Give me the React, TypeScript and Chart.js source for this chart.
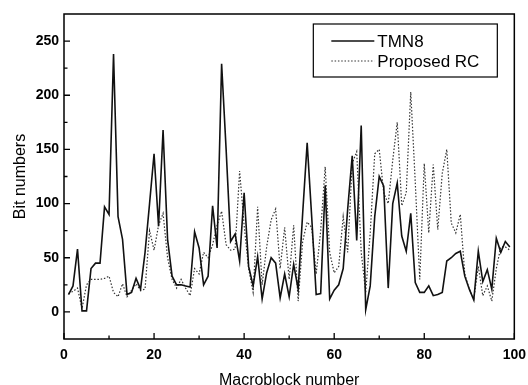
import React, { useEffect, useRef } from "react";
import { Chart, registerables } from "chart.js";

Chart.register(...registerables);

// Macroblock numbers 1..99 (QCIF frame)
const macroblocks: number[] = [
  1, 2, 3, 4, 5, 6, 7, 8, 9, 10, 11, 12, 13, 14, 15, 16, 17, 18, 19, 20,
  21, 22, 23, 24, 25, 26, 27, 28, 29, 30, 31, 32, 33, 34, 35, 36, 37, 38, 39, 40,
  41, 42, 43, 44, 45, 46, 47, 48, 49, 50, 51, 52, 53, 54, 55, 56, 57, 58, 59, 60,
  61, 62, 63, 64, 65, 66, 67, 68, 69, 70, 71, 72, 73, 74, 75, 76, 77, 78, 79, 80,
  81, 82, 83, 84, 85, 86, 87, 88, 89, 90, 91, 92, 93, 94, 95, 96, 97, 98, 99,
];

const tmn8: number[] = [
  16, 24, 58, 1, 1, 40, 45, 45, 97, 90, 238, 88, 67, 16, 18, 31, 21, 55, 100, 146,
  79, 168, 67, 33, 25, 25, 24, 23, 74, 59, 25, 33, 98, 59, 229, 150, 65, 72, 47, 110,
  42, 24, 51, 12, 36, 50, 45, 13, 35, 14, 44, 21, 91, 156, 88, 16, 17, 117, 12, 20,
  25, 40, 95, 144, 66, 172, 2, 24, 88, 125, 116, 22, 100, 119, 70, 56, 91, 27, 18, 18,
  24, 15, 16, 18, 47, 50, 54, 56, 33, 21, 11, 56, 28, 39, 21, 68, 55, 65, 60,
];

const proposedRC: number[] = [
  17, 19, 22, 3, 25, 30, 30, 30, 31, 33, 18, 14, 26, 14, 20, 26, 20, 21, 75, 57,
  80, 91, 50, 30, 22, 30, 22, 15, 40, 35, 55, 50, 62, 80, 93, 62, 57, 58, 130, 80,
  40, 18, 97, 25, 60, 85, 95, 40, 78, 30, 80, 10, 65, 83, 78, 35, 75, 134, 55, 36,
  42, 88, 55, 137, 148, 55, 18, 73, 146, 150, 110, 100, 140, 175, 98, 110, 203, 120, 30, 137,
  73, 136, 76, 128, 150, 82, 73, 90, 35, 21, 12, 42, 15, 24, 10, 40, 60, 60, 57,
];

const seriesLabels = ["TMN8", "Proposed RC"];
const xTicks = [0, 20, 40, 60, 80, 100];
const xMinorTicks = [10, 30, 50, 70, 90];
const yTicks = [0, 50, 100, 150, 200, 250];
const yMinorTicks = [-25, 25, 75, 125, 175, 225];

const FONT = "'Liberation Sans', Arial, Helvetica, sans-serif";

const framePlugin = {
  id: "frameTicksLegend",
  afterDraw(chart: any) {
    const ctx = chart.ctx;
    const { left, right, top, bottom } = chart.chartArea;
    const xs = chart.scales.x;
    const ys = chart.scales.y;
    ctx.save();
    ctx.strokeStyle = "#000";
    ctx.lineWidth = 1.5;
    ctx.strokeRect(left, top, right - left, bottom - top);
    ctx.lineWidth = 1.3;
    ctx.beginPath();
    for (const v of yTicks) {
      const y = ys.getPixelForValue(v);
      ctx.moveTo(left, y);
      ctx.lineTo(left + 6, y);
    }
    for (const v of yMinorTicks) {
      const y = ys.getPixelForValue(v);
      if (y > bottom - 1 || y < top + 1) continue;
      ctx.moveTo(left, y);
      ctx.lineTo(left + 3.5, y);
    }
    for (const v of xTicks) {
      const x = xs.getPixelForValue(v);
      ctx.moveTo(x, bottom);
      ctx.lineTo(x, bottom - 6);
    }
    for (const v of xMinorTicks) {
      const x = xs.getPixelForValue(v);
      ctx.moveTo(x, bottom);
      ctx.lineTo(x, bottom - 3.5);
    }
    ctx.stroke();

    // legend
    const bx = right - 201;
    const by = top + 10;
    const bw = 184;
    const bh = 53;
    ctx.fillStyle = "#fff";
    ctx.fillRect(bx, by, bw, bh);
    ctx.lineWidth = 1.2;
    ctx.strokeRect(bx, by, bw, bh);
    const ds = chart.data.datasets;
    const rows = [by + 17, by + 37];
    ctx.font = `17px ${FONT}`;
    ctx.textBaseline = "middle";
    ctx.textAlign = "left";
    ds.forEach((d: any, i: number) => {
      ctx.beginPath();
      ctx.strokeStyle = d.borderColor;
      ctx.lineWidth = d.borderWidth;
      ctx.setLineDash(d.borderDash || []);
      ctx.moveTo(bx + 18, rows[i]);
      ctx.lineTo(bx + 61, rows[i]);
      ctx.stroke();
      ctx.setLineDash([]);
      ctx.fillStyle = "#000";
      ctx.fillText(d.label, bx + 64, rows[i] + 1);
    });
    ctx.restore();
  },
};

export default function App() {
  const ref = useRef<HTMLCanvasElement | null>(null);
  useEffect(() => {
    if (!ref.current) return;
    const chart = new Chart(ref.current, {
      type: "line",
      data: {
        datasets: [
          {
            label: seriesLabels[0],
            data: macroblocks.map((m, i) => ({ x: m, y: tmn8[i] })),
            borderColor: "#111",
            borderWidth: 1.6,
            pointRadius: 0,
            tension: 0,
            fill: false,
          },
          {
            label: seriesLabels[1],
            data: macroblocks.map((m, i) => ({ x: m, y: proposedRC[i] })),
            borderColor: "#333",
            borderWidth: 1.2,
            borderDash: [1.5, 1.8],
            pointRadius: 0,
            tension: 0,
            fill: false,
          },
        ],
      },
      plugins: [framePlugin],
      options: {
        responsive: false,
        animation: false,
        layout: { padding: { top: 14, right: 17, left: 0, bottom: 0 } },
        plugins: { legend: { display: false }, tooltip: { enabled: false } },
        scales: {
          x: {
            type: "linear",
            min: 0,
            max: 100,
            afterBuildTicks: (s: any) => {
              s.ticks = xTicks.map((v) => ({ value: v }));
            },
            afterFit: (s: any) => {
              s.height = 51;
            },
            grid: { display: false, drawTicks: false },
            border: { display: false },
            ticks: {
              color: "#000",
              padding: 8,
              maxRotation: 0,
              font: { family: FONT, size: 14, weight: "bold" },
            },
            title: {
              display: true,
              text: "Macroblock number",
              color: "#000",
              font: { family: FONT, size: 16 },
              padding: { top: 0, bottom: 0 },
            },
          },
          y: {
            type: "linear",
            min: -25,
            max: 275,
            afterBuildTicks: (s: any) => {
              s.ticks = yTicks.map((v) => ({ value: v }));
            },
            afterFit: (s: any) => {
              s.width = 64;
            },
            grid: { display: false, drawTicks: false },
            border: { display: false },
            ticks: {
              color: "#000",
              padding: 5,
              font: { family: FONT, size: 14, weight: "bold" },
            },
            title: {
              display: true,
              text: "Bit numbers",
              color: "#000",
              font: { family: FONT, size: 16 },
              padding: { top: 11, bottom: 0 },
            },
          },
        },
      },
    });
    return () => chart.destroy();
  }, []);
  return (
    <div style={{ position: "absolute", left: 0, top: 0, width: 528, height: 385, overflow: "hidden", background: "#fff" }}>
      <canvas ref={ref} width={534} height={390} style={{ display: "block", width: 534, height: 390 }} />
    </div>
  );
}
